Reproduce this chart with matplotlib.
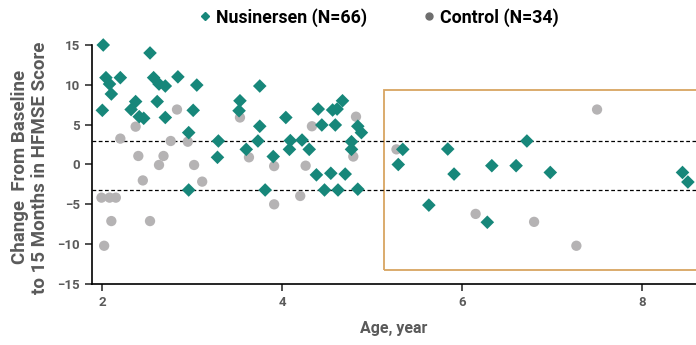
import matplotlib
matplotlib.use("Agg")
import matplotlib.pyplot as plt
from matplotlib.lines import Line2D
from matplotlib.patches import Rectangle

plt.rcParams["font.family"] = ["Roboto", "DejaVu Sans"]

# Nusinersen (diamonds): age in years, change in HFMSE score
nus_age = [2.01, 2.04, 2.08, 2.10, 2.00, 2.20, 2.53, 2.57, 2.63, 2.70, 2.84, 3.05,
           2.37, 2.32, 2.41, 2.46, 2.61, 2.70, 3.01, 2.96, 3.29, 3.53, 3.52, 3.75,
           3.75, 3.73, 3.60, 3.28, 3.90, 2.96, 3.81,
           4.04, 4.40, 4.56, 4.61, 4.67, 4.44, 4.59, 4.84, 4.88, 4.09, 4.22, 4.08,
           4.30, 4.77, 4.77, 4.38, 4.54, 4.70, 4.47, 4.62, 4.84,
           5.34, 5.29, 5.84, 5.91, 5.63, 6.28, 6.33, 6.60, 6.72, 6.98, 8.45, 8.51]
nus_val = [15.0, 10.9, 10.1, 8.85, 6.8, 10.9, 14.0, 10.9, 10.1, 9.85, 11.0, 9.97,
           7.9, 6.9, 6.0, 5.8, 7.9, 5.9, 6.8, 4.0, 2.95, 8.0, 6.75, 9.85,
           4.8, 2.95, 1.9, 0.9, 1.0, -3.2, -3.2,
           5.9, 6.96, 6.84, 6.96, 8.0, 4.96, 4.96, 4.8, 4.0, 3.0, 3.07, 1.9,
           1.9, 2.86, 1.9, -1.3, -1.1, -1.2, -3.2, -3.2, -3.1,
           1.9, 0.0, 1.94, -1.2, -5.1, -7.25, -0.15, -0.15, 2.95, -1.0, -1.0, -2.2]

# Control (circles)
ctl_age = [2.83, 3.53, 2.37, 2.20, 2.76, 2.95, 2.40, 2.68, 3.63, 2.63, 3.02,
           2.45, 3.11, 3.91, 3.91, 1.99, 2.08, 2.15, 2.10, 2.53, 2.02,
           4.33, 4.82, 4.79, 4.26, 4.20, 5.27, 6.15, 6.80, 7.27, 7.50]
ctl_val = [6.9, 5.9, 4.75, 3.25, 2.95, 2.86, 1.07, 1.07, 0.9, -0.06, -0.06,
           -2.0, -2.15, -0.2, -5.0, -4.16, -4.16, -4.16, -7.1, -7.1, -10.2,
           4.8, 6.0, 1.0, -0.15, -3.95, 1.9, -6.2, -7.2, -10.2, 6.9]

thresholds = [2.95, -3.2]
box_x, box_y = (5.13, 8.75), (-13.25, 9.35)

TEAL = "#17877a"
GREY = "#b5b3b4"
LABEL = "#5a5a5a"

fig = plt.figure(figsize=(6.96, 3.45), dpi=100)
ax = fig.add_axes([92 / 696, 1 - 284 / 345, 1 - 92 / 696, (284 - 45) / 345])

ax.scatter(ctl_age, ctl_val, s=55, marker="o", color=GREY, edgecolor="none",
           zorder=3, clip_on=False)
ax.scatter(nus_age, nus_val, s=48, marker="D", color=TEAL, edgecolor="none",
           zorder=4, clip_on=False)

for t in thresholds:
    ax.axhline(t, color="black", lw=0.9, ls=(0, (3, 2)), zorder=2)

ax.add_patch(Rectangle((box_x[0], box_y[0]), box_x[1] - box_x[0], box_y[1] - box_y[0],
                       fill=False, edgecolor="#d8a561", lw=1.3, zorder=1, clip_on=False))

ax.set_xlim(1.885, 8.6)
ax.set_ylim(-15, 15)
ax.set_xticks([2, 4, 6, 8])
ax.set_yticks([-15, -10, -5, 0, 5, 10, 15])
ax.spines[["top", "right"]].set_visible(False)
for s in ("left", "bottom"):
    ax.spines[s].set_linewidth(1.2)
ax.tick_params(axis="both", colors="#222222", labelcolor=LABEL, labelsize=9.5,
               length=5, width=1.1)
for lbl in ax.get_xticklabels() + ax.get_yticklabels():
    lbl.set_fontweight("bold")

ax.set_xlabel("Age, year", fontsize=11.5, color=LABEL, fontweight="bold", labelpad=9)
fig.text(0.043, 0.515, "Change  From Baseline\nto 15 Months in HFMSE Score",
         rotation=90, ha="center", va="center", fontsize=13.5, color=LABEL,
         fontweight="bold", linespacing=1.2)

handles = [Line2D([], [], marker="D", ls="none", color=TEAL, markersize=4.5),
           Line2D([], [], marker="o", ls="none", color="#6e6e6e", markersize=5)]
fig.legend(handles, ["Nusinersen (N=66)", "Control (N=34)"], loc="center",
           bbox_to_anchor=(0.542, 0.95), ncol=2, frameon=False,
           handletextpad=0.1, columnspacing=3.0, handlelength=1.0,
           prop={"weight": "bold", "size": 12.8})

fig.savefig("out.png", dpi=100)
